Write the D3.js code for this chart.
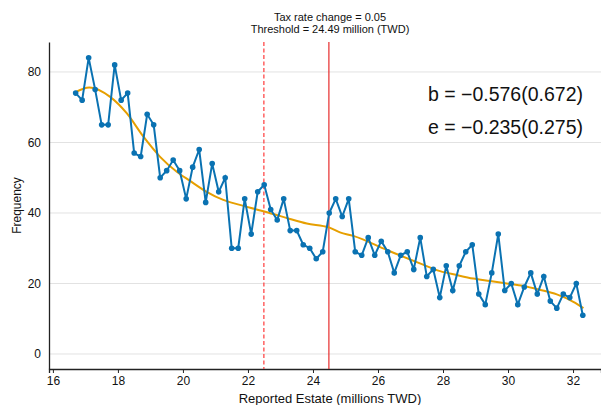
<!DOCTYPE html>
<html>
<head>
<meta charset="utf-8">
<script src="https://cdn.jsdelivr.net/npm/d3@7.9.0/dist/d3.min.js"></script>
<style>
  body { margin: 0; background: #fff; }
  svg { font-family: "Liberation Sans", Arial, sans-serif; }
</style>
</head>
<body>
<svg id="chart" width="601" height="405"></svg>
<script>
// binned frequencies, bin centres 16.7, 16.9, ... 32.3
const binStart = 16.7;
const binStep = 0.2;
const freq = [
  74, 72, 84, 75, 65, 65, 82, 72, 74, 57, 56, 68, 65, 50, 52, 55, 52, 44, 53, 58,
  43, 54, 46, 50, 30, 30, 44, 34, 46, 48, 41, 38, 44, 35, 35, 31, 30, 27, 29, 40, 44,
  39, 44, 29, 28, 33, 28, 32, 29, 23, 28, 29, 24, 33, 22, 24, 16, 25, 18, 25,
  29, 31, 17, 14, 23, 34, 18, 20, 14, 19, 23, 17, 22, 15, 13, 17, 16, 20, 11
];

// fitted smooth curve
const fitX = [16.68, 17.12, 17.75, 18.27, 18.78, 19.29, 19.81, 20.22, 20.73, 21.24, 21.75, 22.27,
  22.78, 23.29, 23.81, 24.49, 24.83, 25.24, 26.27, 27.29, 27.91, 28.42, 28.93, 29.45, 29.96,
  30.47, 30.98, 31.5, 32.01, 32.32];
const fitY = [74.2, 75.6, 73, 68.3, 61.7, 56, 51.7, 49.1, 46.0, 43.7, 42.3, 41.0,
  39.7, 38.3, 37.0, 35.9, 34.5, 33.5, 29.5, 25.7, 23.5, 22.4, 21.4, 20.7, 20.0,
  19.3, 18.2, 16.9, 14.8, 13.0];

const xTicks = [16, 18, 20, 22, 24, 26, 28, 30, 32];
const yTicks = [0, 20, 40, 60, 80];
const threshold = 24.49;
const dashedAt = 22.49;
const titleLines = ["Tax rate change = 0.05", "Threshold = 24.49 million (TWD)"];
const statLines = ["b = \u22120.576(0.672)", "e = \u22120.235(0.275)"];

const svg = d3.select("#chart");
const plotLeft = 49, plotRight = 601, plotTop = 42, plotBottom = 369;

const x = d3.scaleLinear().domain([15.88, 32.86]).range([plotLeft, plotRight]);
const y = d3.scaleLinear().domain([-4.26, 88.5]).range([plotBottom, plotTop]);

const points = freq.map((f, i) => ({ x: binStart + binStep * i, y: f }));
const fit = fitX.map((v, i) => ({ x: v, y: fitY[i] }));

// gridlines
svg.append("g")
  .selectAll("line")
  .data(yTicks)
  .join("line")
  .attr("x1", plotLeft).attr("x2", plotRight)
  .attr("y1", d => y(d)).attr("y2", d => y(d))
  .attr("stroke", "#e2e2e2")
  .attr("stroke-width", 1);

// axes
const xAxis = svg.append("g")
  .attr("transform", `translate(0,${plotBottom})`)
  .call(d3.axisBottom(x).tickValues(xTicks).tickSize(4).tickPadding(3));
xAxis.select(".domain").attr("stroke", "#222").attr("stroke-width", 1.3);
xAxis.selectAll(".tick line").attr("stroke", "#222");
xAxis.selectAll("text").attr("font-size", 12).attr("fill", "#111");

const yAxis = svg.append("g")
  .attr("transform", `translate(${plotLeft},0)`)
  .call(d3.axisLeft(y).tickValues(yTicks).tickSize(0).tickPadding(8));
yAxis.select(".domain").attr("stroke", "#222").attr("stroke-width", 1.3);
yAxis.selectAll("text").attr("font-size", 12).attr("fill", "#111");

// vertical reference lines
svg.append("line")
  .attr("x1", x(dashedAt)).attr("x2", x(dashedAt))
  .attr("y1", plotTop).attr("y2", plotBottom)
  .attr("stroke", "#ff3a3a")
  .attr("stroke-width", 1.2)
  .attr("stroke-dasharray", "4,2.5");

svg.append("line")
  .attr("x1", x(threshold)).attr("x2", x(threshold))
  .attr("y1", plotTop).attr("y2", plotBottom)
  .attr("stroke", "#e41a1a")
  .attr("stroke-width", 1.1);

// fitted curve
svg.append("path")
  .datum(fit)
  .attr("fill", "none")
  .attr("stroke", "#e69f00")
  .attr("stroke-width", 2)
  .attr("d", d3.line().x(d => x(d.x)).y(d => y(d.y)).curve(d3.curveMonotoneX));

// frequency series
svg.append("path")
  .datum(points)
  .attr("fill", "none")
  .attr("stroke", "#0a72b2")
  .attr("stroke-width", 2)
  .attr("d", d3.line().x(d => x(d.x)).y(d => y(d.y)));

svg.append("g")
  .selectAll("circle")
  .data(points)
  .join("circle")
  .attr("cx", d => x(d.x))
  .attr("cy", d => y(d.y))
  .attr("r", 2.8)
  .attr("fill", "#0a72b2");

// title
svg.append("g")
  .selectAll("text")
  .data(titleLines)
  .join("text")
  .attr("x", 330)
  .attr("y", (d, i) => 21 + i * 12)
  .attr("text-anchor", "middle")
  .attr("font-size", 11)
  .attr("fill", "#111")
  .text(d => d);

// estimates
svg.append("g")
  .selectAll("text")
  .data(statLines)
  .join("text")
  .attr("x", 583)
  .attr("y", (d, i) => 101 + i * 33)
  .attr("text-anchor", "end")
  .attr("font-size", 19.5)
  .attr("fill", "#111")
  .text(d => d);

// axis titles
svg.append("text")
  .attr("x", 330)
  .attr("y", 403)
  .attr("text-anchor", "middle")
  .attr("font-size", 13)
  .attr("fill", "#111")
  .text("Reported Estate (millions TWD)");

svg.append("text")
  .attr("transform", `translate(21,${(plotTop + plotBottom) / 2}) rotate(-90)`)
  .attr("text-anchor", "middle")
  .attr("font-size", 12)
  .attr("fill", "#111")
  .text("Frequency");
</script>
</body>
</html>
